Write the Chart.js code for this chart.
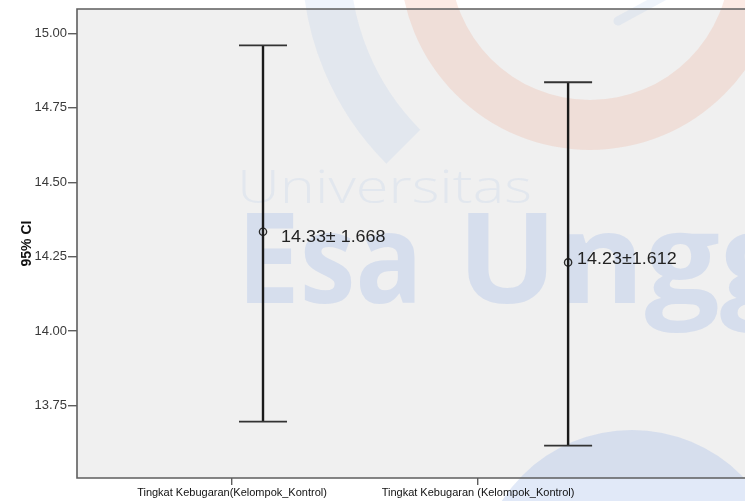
<!DOCTYPE html>
<html>
<head>
<meta charset="utf-8">
<script src="https://cdn.jsdelivr.net/npm/chart.js@4/dist/chart.umd.min.js"></script>
<style>
  html, body { margin: 0; padding: 0; background: #ffffff; overflow: hidden; }
  #wrap { width: 745px; height: 501px; position: relative; }
</style>
</head>
<body>
<div id="wrap"><canvas id="c" width="745" height="501"></canvas></div>
<script>
// ---- data ----
const categories = ['Tingkat Kebugaran(Kelompok_Kontrol)', 'Tingkat Kebugaran (Kelompok_Kontrol)'];
const categoryTicks = [1, 2];
const barPositions = [1.126, 2.366];
const means = [14.334, 14.231];
const ciLower = [13.696, 13.616];
const ciUpper = [14.960, 14.836];
const valueLabels = ['14.33\u00b1 1.668', '14.23\u00b11.612'];
const yTicks = [13.75, 14.00, 14.25, 14.50, 14.75, 15.00];
const yTitle = '95% CI';

// ---- style ----
const FONT = 'Arial, "Liberation Sans", sans-serif';
const labelStyle = [{dx: 18, dy: 6}, {dx: 9, dy: -3}];
const xRange = {min: 0.370, max: 3.085};
const yRange = {min: 13.507, max: 15.082};

function fitText(ctx, text, x, y, width) {
  const w = ctx.measureText(text).width;
  ctx.save();
  ctx.translate(x, y);
  ctx.scale(width / w, 1);
  ctx.fillText(text, 0, 0);
  ctx.restore();
}

const backgroundPlugin = {
  id: 'bgWatermark',
  beforeDraw(chart) {
    const {ctx, chartArea: a, width, height} = chart;
    ctx.save();
    ctx.fillStyle = '#ffffff';
    ctx.fillRect(0, 0, width, height);
    ctx.fillStyle = '#f0f0f0';
    ctx.fillRect(a.left, a.top, width - a.left, a.bottom - a.top);

    // faint watermark
    const blue = 'rgba(150,180,230,0.29)';
    const blueLight = 'rgba(150,180,230,0.15)';
    // orange ring
    ctx.beginPath();
    ctx.arc(590, -40, 190, 0, Math.PI * 2);
    ctx.arc(590, -40, 140, 0, Math.PI * 2, true);
    ctx.fillStyle = 'rgba(235,160,130,0.22)';
    ctx.fill('evenodd');
    // blue outer arc
    ctx.beginPath();
    ctx.arc(590, -40, 288, Math.PI * 0.75, Math.PI);
    ctx.arc(590, -40, 240, Math.PI, Math.PI * 0.75, true);
    ctx.closePath();
    ctx.fillStyle = blueLight;
    ctx.fill();
    // small stroke top right
    ctx.beginPath();
    ctx.moveTo(664, -4);
    ctx.lineTo(618, 21);
    ctx.lineWidth = 9;
    ctx.lineCap = 'round';
    ctx.strokeStyle = blueLight;
    ctx.stroke();
    // blob bottom right
    ctx.beginPath();
    ctx.arc(632, 585, 155, 0, Math.PI * 2);
    ctx.fillStyle = blue;
    ctx.fill();
    // texts
    ctx.fillStyle = blueLight;
    ctx.textBaseline = 'alphabetic';
    ctx.textAlign = 'left';
    ctx.font = '300 46px "Open Sans", sans-serif';
    fitText(ctx, 'Universitas', 237, 203, 295);
    ctx.fillStyle = blue;
    ctx.font = 'bold 126px "Open Sans", sans-serif';
    fitText(ctx, 'Esa', 237, 303, 186);
    fitText(ctx, 'Ungg', 457, 303, 338);
    ctx.restore();
  },
  beforeDatasetsDraw(chart) {
    const {ctx, chartArea: a, width} = chart;
    ctx.save();
    ctx.strokeStyle = '#5e5e5e';
    ctx.lineWidth = 1.6;
    ctx.beginPath();
    ctx.moveTo(width + 2, a.top);
    ctx.lineTo(a.left, a.top);
    ctx.lineTo(a.left, a.bottom);
    ctx.lineTo(width + 2, a.bottom);
    ctx.stroke();
    ctx.restore();
  },
  afterDatasetsDraw(chart) {
    const {ctx, scales: {x, y}} = chart;
    ctx.save();
    barPositions.forEach((bx, i) => {
      const px = x.getPixelForValue(bx);
      const pTop = y.getPixelForValue(ciUpper[i]);
      const pBot = y.getPixelForValue(ciLower[i]);
      const pMean = y.getPixelForValue(means[i]);
      ctx.strokeStyle = '#1a1a1a';
      ctx.lineWidth = 2.4;
      ctx.beginPath();
      ctx.moveTo(px, pTop);
      ctx.lineTo(px, pBot);
      ctx.stroke();
      ctx.strokeStyle = '#333333';
      ctx.lineWidth = 1.8;
      ctx.beginPath();
      ctx.moveTo(px - 24, pTop);
      ctx.lineTo(px + 24, pTop);
      ctx.moveTo(px - 24, pBot);
      ctx.lineTo(px + 24, pBot);
      ctx.stroke();
      // label
      ctx.fillStyle = '#222222';
      ctx.font = '16px ' + FONT;
      ctx.textBaseline = 'middle';
      ctx.textAlign = 'left';
      ctx.save();
      ctx.translate(px + labelStyle[i].dx, pMean + labelStyle[i].dy);
      ctx.scale(1.12, 1);
      ctx.fillText(valueLabels[i], 0, 0);
      ctx.restore();
    });
    ctx.restore();
  }
};

new Chart(document.getElementById('c'), {
  type: 'scatter',
  data: {
    datasets: [{
      data: barPositions.map((bx, i) => ({x: bx, y: means[i]})),
      pointStyle: 'circle',
      pointRadius: 3.6,
      pointBorderWidth: 1.4,
      pointBorderColor: '#2a2a2a',
      pointBackgroundColor: 'rgba(0,0,0,0)',
      pointHoverRadius: 3.6
    }]
  },
  options: {
    responsive: false,
    animation: false,
    devicePixelRatio: 1,
    layout: {autoPadding: false, padding: {top: 9, right: 0, left: 0, bottom: 0}},
    plugins: {legend: {display: false}, tooltip: {enabled: false}},
    events: [],
    scales: {
      x: {
        type: 'linear',
        min: xRange.min,
        max: xRange.max,
        afterBuildTicks(scale) { scale.ticks = categoryTicks.map(v => ({value: v})); },
        afterFit(scale) { scale.height = 23; },
        grid: {display: true, drawOnChartArea: false, drawTicks: true, tickLength: 7, color: '#5e5e5e', lineWidth: 1.4},
        border: {display: false},
        ticks: {
          autoSkip: false, maxRotation: 0, padding: 1,
          color: '#111111',
          font: {family: FONT, size: 11},
          callback(v) { const i = categoryTicks.indexOf(v); return i >= 0 ? categories[i] : ''; }
        }
      },
      y: {
        type: 'linear',
        min: yRange.min,
        max: yRange.max,
        afterBuildTicks(scale) { scale.ticks = yTicks.map(v => ({value: v})); },
        afterFit(scale) { scale.width = 77; },
        grid: {display: true, drawOnChartArea: false, drawTicks: true, tickLength: 9, color: '#5e5e5e', lineWidth: 1.4},
        border: {display: false},
        ticks: {
          padding: 1,
          color: '#3a3a3a',
          font: {family: FONT, size: 13},
          callback(v) { return Number(v).toFixed(2); }
        },
        title: {
          display: true,
          text: yTitle,
          color: '#111111',
          font: {family: FONT, size: 14, weight: 'bold'},
          padding: {top: 19, bottom: 0}
        }
      }
    }
  },
  plugins: [backgroundPlugin]
});
</script>
</body>
</html>
